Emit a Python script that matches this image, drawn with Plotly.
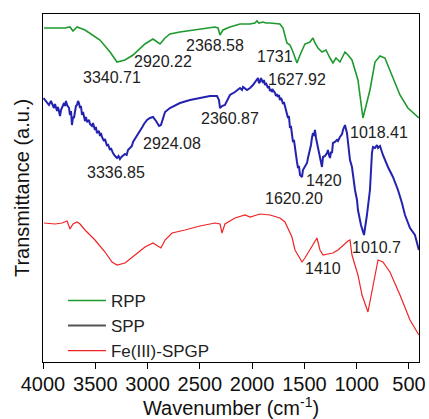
import plotly.graph_objects as go

# ---------------- data ----------------
rpp_wn = [3990, 3885, 3790, 3742, 3713, 3675, 3598, 3455, 3359, 3292, 3216, 3139, 3025, 2948, 2900, 2881,
          2833, 2786, 2690, 2499, 2355, 2326, 2307, 2279, 2212, 2116, 2020, 1973, 1954, 1935, 1896, 1868,
          1829, 1734, 1705, 1667, 1638, 1609, 1590, 1571, 1542, 1495, 1447, 1418, 1399, 1370, 1332, 1294,
          1255, 1227, 1198, 1160, 1112, 1083, 1045, 988, 940, 911, 873, 825, 777, 730, 682, 634, 586, 510, 405]
rpp_t = [334, 334, 334, 335, 331, 335, 332, 322, 310, 300, 302, 307, 318, 323, 320, 318,
         324, 328, 330, 333, 335, 334, 327, 332, 335, 338, 338, 339, 341, 339, 340, 339,
         339, 338, 334, 319, 317, 310, 305, 299, 307, 318, 320, 324, 319, 314, 310, 312,
         304, 299, 304, 300, 310, 307, 302, 282, 244, 257, 272, 300, 306, 304, 292, 280, 267, 254, 244]

spp_wn = [3995, 3981, 3962, 3943, 3924, 3914, 3895, 3885, 3866, 3857, 3837, 3828, 3818, 3799, 3790, 3780,
          3770, 3751, 3742, 3732, 3723, 3713, 3704, 3694, 3685, 3675, 3665, 3656, 3646, 3637, 3627, 3617,
          3598, 3589, 3579, 3560, 3551, 3532, 3522, 3503, 3494, 3484, 3465, 3455, 3446, 3436, 3417, 3407,
          3388, 3379, 3359, 3350, 3331, 3311, 3292, 3278, 3264, 3250, 3235, 3216, 3200, 3187, 3168, 3150,
          3139, 3120, 3105, 3091, 3072, 3050, 3034, 3005, 2977, 2948, 2919, 2890, 2872, 2852, 2833, 2786,
          2690, 2594, 2499, 2403, 2336, 2317, 2307, 2288, 2260, 2212, 2164, 2116, 2097, 2087, 2049, 2020,
          1992, 1973, 1954, 1944, 1935, 1925, 1915, 1906, 1896, 1887, 1877, 1868, 1848, 1839, 1829, 1820,
          1810, 1801, 1781, 1772, 1762, 1753, 1743, 1734, 1724, 1715, 1705, 1696, 1686, 1677, 1667, 1657,
          1648, 1638, 1629, 1619, 1609, 1600, 1590, 1581, 1571, 1561, 1552, 1542, 1523, 1514, 1495, 1475,
          1466, 1447, 1437, 1428, 1418, 1409, 1399, 1389, 1380, 1370, 1361, 1351, 1342, 1332, 1322, 1303,
          1284, 1275, 1265, 1255, 1246, 1236, 1227, 1208, 1189, 1179, 1160, 1140, 1131, 1112, 1093, 1083,
          1064, 1045, 1035, 1016, 997, 988, 959, 930, 902, 873, 854, 844, 825, 806, 796, 777,
          749, 701, 653, 605, 567, 538, 490, 443, 405]
spp_t = [264, 262, 259, 257, 261, 258, 254, 258, 251, 255, 246, 252, 254, 259, 256, 261,
         257, 254, 247, 251, 237, 245, 244, 251, 256, 257, 261, 259, 254, 256, 247, 250,
         241, 245, 240, 242, 238, 236, 239, 232, 235, 229, 231, 226, 229, 225, 221, 223,
         216, 218, 212, 214, 209, 206, 204, 206, 203, 205, 206, 208, 207, 212, 214, 216,
         220, 223, 225, 228, 231, 235, 238, 242, 244, 245, 241, 236, 237, 245, 250, 254,
         259, 262, 264, 266, 266, 262, 254, 256, 257, 267, 270, 274, 272, 275, 272, 274,
         277, 280, 282, 284, 279, 280, 284, 282, 279, 282, 277, 279, 274, 276, 271, 273,
         270, 272, 269, 266, 268, 265, 267, 262, 264, 262, 258, 260, 256, 254, 250, 244,
         246, 234, 236, 227, 220, 222, 212, 206, 200, 194, 196, 187, 185, 192, 196, 199,
         204, 212, 217, 224, 229, 226, 232, 224, 219, 215, 210, 202, 198, 195, 205, 206,
         209, 212, 207, 204, 210, 209, 219, 220, 222, 221, 225, 228, 232, 237, 229, 219,
         202, 195, 185, 172, 162, 152, 137, 127, 147, 172, 209, 215, 214, 217, 214, 216,
         207, 195, 185, 172, 159, 147, 134, 127, 112]

fe_wn = [3990, 3885, 3818, 3770, 3742, 3713, 3675, 3646, 3598, 3503, 3407, 3340, 3292, 3216, 3120, 3025,
         2948, 2900, 2872, 2833, 2766, 2642, 2499, 2355, 2307, 2288, 2260, 2164, 2068, 2020, 1925, 1829,
         1734, 1686, 1619, 1590, 1523, 1495, 1447, 1380, 1351, 1322, 1275, 1227, 1179, 1131, 1083, 1064,
         1045, 988, 949, 892, 854, 796, 749, 682, 586, 490, 405]
fe_t = [139, 138, 139, 141, 133, 138, 140, 138, 132, 122, 110, 100, 97, 99, 107, 115,
        119, 116, 114, 122, 129, 132, 136, 139, 138, 129, 138, 144, 147, 145, 148, 147,
        144, 140, 125, 112, 100, 104, 112, 124, 112, 107, 108, 109, 112, 117, 121, 122,
        107, 87, 67, 50, 72, 102, 100, 90, 67, 42, 27]

series_names = ["RPP", "SPP", "Fe(III)-SPGP"]

peak_labels = ["3340.71", "2920.22", "2368.58", "1731", "1627.92", "1018.41",
               "3336.85", "2924.08", "2360.87", "1420", "1620.20", "1010.7", "1410"]
peak_label_wn = [3340, 2852, 2355, 1785, 1571, 787, 3302, 2766, 2212, 1313, 1600, 806, 1322]
peak_label_t = [285, 301, 317, 306, 283, 230, 190, 219, 244, 182, 164, 115, 94]

x_ticks = [4000, 3500, 3000, 2500, 2000, 1500, 1000, 500]

# ---------------- figure ----------------
GREEN = "#1f9a2e"
BLUE = "#2323b0"
RED = "#ee2424"
FONT = "Liberation Sans, Arial, sans-serif"

fig = go.Figure()
fig.add_trace(go.Scatter(x=rpp_wn, y=rpp_t, mode="lines", name=series_names[0],
                         line=dict(color=GREEN, width=1.6)))
fig.add_trace(go.Scatter(x=spp_wn, y=spp_t, mode="lines", name=series_names[1],
                         line=dict(color=BLUE, width=2), showlegend=False))
# legend entry for SPP drawn in dark grey, as in the reference
fig.add_trace(go.Scatter(x=[None], y=[None], mode="lines", name=series_names[1],
                         line=dict(color="#555555", width=2)))
fig.add_trace(go.Scatter(x=fe_wn, y=fe_t, mode="lines", name=series_names[2],
                         line=dict(color=RED, width=1.2)))

for txt, xv, yv in zip(peak_labels, peak_label_wn, peak_label_t):
    fig.add_annotation(x=xv, y=yv, text=txt, showarrow=False,
                       font=dict(family=FONT, size=16, color="#222222"))

fig.update_layout(
    width=429, height=419,
    margin=dict(l=43, r=10, t=14, b=57, autoexpand=False),
    paper_bgcolor="white", plot_bgcolor="white",
    font=dict(family=FONT, color="#222222"),
    showlegend=True,
    legend=dict(x=0.053, y=-0.02, xanchor="left", yanchor="bottom",
                bgcolor="rgba(0,0,0,0)", font=dict(size=17, family=FONT),
                tracegroupgap=0, itemwidth=38),
)
fig.update_xaxes(range=[4000, 404], tickvals=x_ticks, ticks="outside", ticklen=6,
                 tickwidth=1, tickcolor="black", showline=True, linecolor="black",
                 linewidth=1, mirror=True, showgrid=False, zeroline=False,
                 automargin=False, ticklabelstandoff=-2,
                 tickfont=dict(size=20, family=FONT, color="#111111"),
                 title=dict(text="Wavenumber (cm<sup>-1</sup>)", standoff=0,
                            font=dict(size=20, family=FONT, color="#111111")))
fig.update_yaxes(range=[0, 348], showticklabels=False, ticks="", showline=True,
                 linecolor="black", linewidth=1, mirror=True, showgrid=False,
                 zeroline=False, automargin=False,
                 title=dict(text="Transmittance (a.u.)", standoff=7,
                            font=dict(size=20, family=FONT, color="#111111")))

fig.write_html("out.html", config={"displayModeBar": False},
               post_script="document.body.style.margin='0';")
